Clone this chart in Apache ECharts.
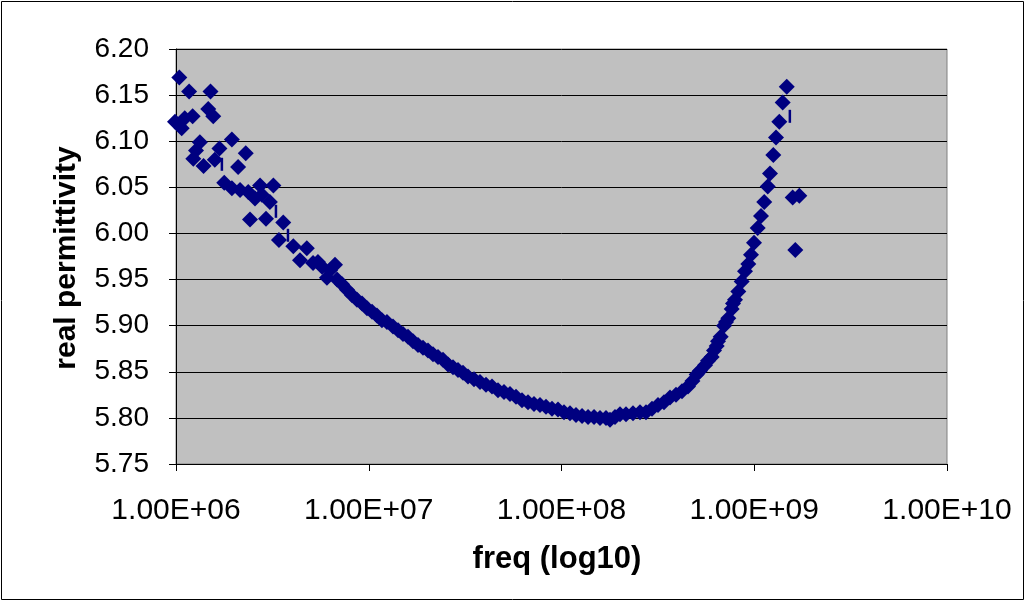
<!DOCTYPE html>
<html>
<head>
<meta charset="utf-8">
<script src="https://cdn.jsdelivr.net/npm/echarts@6/dist/echarts.min.js"></script>
<style>
html,body{margin:0;padding:0;background:#fff;}
#chart{width:1026px;height:602px;}
</style>
</head>
<body>
<div id="chart"></div>
<script>
// ---- data ----
var xTickLabels = ['1.00E+06','1.00E+07','1.00E+08','1.00E+09','1.00E+10'];
var xTitle = 'freq (log10)';
var yTitle = 'real permittivity';

// low-frequency scattered points
var earlyFreq = [1.04e6,1.17e6,1.51e6,9.88e5,1.07e6,1.11e6,1.22e6,1.47e6,1.56e6,1.33e6,1.27e6,1.23e6,1.95e6,1.68e6,1.59e6,1.39e6,2.30e6,2.10e6,1.78e6,1.95e6,2.15e6,2.37e6,2.73e6,3.20e6,2.57e6,3.07e6,2.42e6,2.93e6,3.60e6,3.42e6,4.06e6,4.77e6,2.79e6];
var earlyVal  = [6.169,6.154,6.154,6.121,6.114,6.125,6.127,6.135,6.127,6.099,6.090,6.081,6.102,6.092,6.080,6.073,6.087,6.072,6.055,6.049,6.047,6.045,6.052,6.052,6.038,6.034,6.015,6.016,6.012,5.993,5.986,5.984,6.042];

// main band (decreasing to the minimum and back up)
var curveFreq = [4.40e6,5.14e6,5.45e6,5.72e6,6.30e6,6.68e6,6.07e6,6.85e6,7.27e6,7.71e6,8.19e6,8.69e6,9.23e6,9.79e6,
  1.040e7,1.103e7,1.171e7,1.243e7,1.336e7,1.419e7,1.506e7,1.598e7,1.697e7,1.801e7,1.912e7,2.029e7,2.154e7,2.287e7,2.428e7,2.577e7,2.736e7,2.904e7,3.083e7,3.273e7,3.516e7,3.777e7,4.058e7,4.359e7,4.683e7,5.030e7,5.404e7,5.806e7,6.237e7,6.701e7,7.199e7,7.734e7,8.309e7,8.926e7,9.590e7,
  1.030e8,1.107e8,1.189e8,1.278e8,1.373e8,1.475e8,1.584e8,1.702e8,1.785e8,1.895e8,2.012e8,2.161e8,2.350e8,2.555e8,2.744e8,2.948e8,3.167e8,3.402e8,3.655e8,3.927e8,4.219e8,4.532e8,4.78e8];
var curveVal  = [5.971,5.968,5.969,5.964,5.960,5.966,5.952,5.950,5.945,5.939,5.933,5.928,5.924,5.919,
  5.915,5.911,5.906,5.904,5.899,5.895,5.891,5.888,5.883,5.879,5.876,5.873,5.869,5.866,5.863,5.858,5.855,5.852,5.849,5.845,5.842,5.839,5.836,5.834,5.830,5.828,5.826,5.823,5.819,5.817,5.815,5.814,5.812,5.810,5.809,
  5.806,5.805,5.803,5.802,5.801,5.801,5.800,5.800,5.798,5.801,5.804,5.804,5.805,5.806,5.806,5.810,5.814,5.817,5.822,5.825,5.829,5.834,5.840];

// steep rise near 1 GHz
var riseFreq = [5.028e8,5.23e8,5.553e8,5.757e8,6.016e8,6.184e8,6.386e8,6.486e8,6.698e8,6.968e8,7.136e8,7.336e8,7.638e8,7.759e8,7.946e8,8.266e8,8.608e8,8.954e8,9.314e8,9.619e8,9.970e8,
  1.042e9,1.084e9,1.127e9,1.175e9,1.207e9,1.256e9,1.297e9,1.349e9,1.405e9,1.474e9];
var riseVal  = [5.847,5.851,5.857,5.862,5.866,5.873,5.878,5.883,5.888,5.900,5.904,5.908,5.918,5.924,5.928,5.937,5.948,5.959,5.967,5.977,5.990,
  6.006,6.019,6.034,6.051,6.065,6.085,6.104,6.121,6.142,6.159];

// outliers above 1.5 GHz
var outlierFreq = [1.583e9,1.713e9,1.633e9];
var outlierVal  = [6.039,6.041,5.982];

// small vertical dash marks
var dashFreq = [1.73e6,3.30e6,3.81e6,1.53e9];
var dashVal  = [6.075,6.024,5.998,6.127];

function pairs(xs, ys){ var out=[]; for(var i=0;i<xs.length;i++){ out.push([xs[i], ys[i]]); } return out; }

var diamonds = pairs(earlyFreq, earlyVal)
  .concat(pairs(curveFreq, curveVal))
  .concat(pairs(riseFreq, riseVal))
  .concat(pairs(outlierFreq, outlierVal));

var FONT = '"Liberation Sans", Arial, sans-serif';
var chart = echarts.init(document.getElementById('chart'), null, {renderer:'canvas'});
chart.setOption({
  animation: false,
  backgroundColor: '#ffffff',
  grid: {
    left: 176, right: 79, top: 49, bottom: 138,
    show: true, backgroundColor: '#c0c0c0', borderColor: '#808080', borderWidth: 1
  },
  xAxis: {
    type: 'log', logBase: 10, min: 1e6, max: 1e10,
    axisLine: {show: true, onZero: false, lineStyle: {color: '#000', width: 1}},
    axisTick: {show: true, inside: false, length: 7, lineStyle: {color: '#000'}},
    splitLine: {show: false},
    axisLabel: {
      margin: 32, color: '#000', fontFamily: FONT, fontSize: 30,
      formatter: function(v){ var k = Math.round(Math.log10(v)) - 6; return xTickLabels[k] || ''; }
    }
  },
  yAxis: {
    type: 'value', min: 5.75, max: 6.20, interval: 0.05,
    axisLine: {show: true, lineStyle: {color: '#000', width: 1}},
    axisTick: {show: true, inside: false, length: 7, lineStyle: {color: '#000'}},
    splitLine: {show: true, lineStyle: {color: '#000', width: 1}},
    axisLabel: {
      margin: 27, color: '#000', fontFamily: FONT, fontSize: 28,
      formatter: function(v){ return v.toFixed(2); }
    }
  },
  graphic: [
    {type:'rect', silent:true, z:100, shape:{x:1.5, y:1.5, width:1022, height:598}, style:{fill:'none', stroke:'#000', lineWidth:1}},
    {type:'text', silent:true, x:557, y:559, style:{text:xTitle, font:'bold 31px ' + FONT, fill:'#000', align:'center', verticalAlign:'middle'}},
    {type:'text', silent:true, x:67, y:258, rotation:Math.PI/2, style:{text:yTitle, font:'bold 30px ' + FONT, fill:'#000', align:'center', verticalAlign:'middle'}}
  ],
  series: [
    {
      type: 'scatter', clip: false, symbol: 'diamond', symbolSize: 16,
      itemStyle: {color: '#000080', opacity: 1}, data: diamonds
    },
    {
      type: 'scatter', clip: false, symbol: 'rect', symbolSize: [2.5, 13],
      itemStyle: {color: '#000080', opacity: 1}, data: pairs(dashFreq, dashVal)
    }
  ]
});
</script>
</body>
</html>
